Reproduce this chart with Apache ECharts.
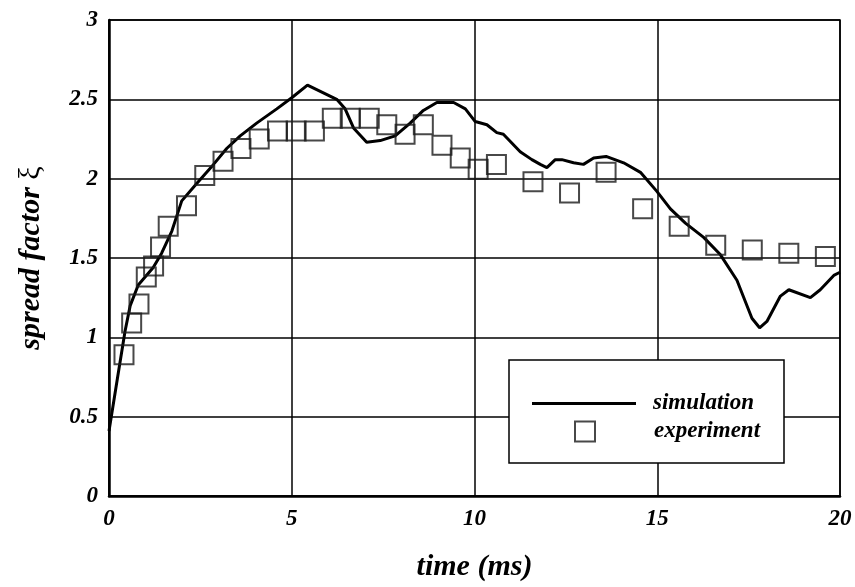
<!DOCTYPE html>
<html>
<head>
<meta charset="utf-8">
<script src="https://cdn.jsdelivr.net/npm/echarts@6/dist/echarts.min.js"></script>
<style>
  html, body { margin: 0; padding: 0; background: #fff; }
  #spread { width: 855px; height: 587px; }
</style>
</head>
<body>
<div id="spread"></div>
<script>
  /* data */
  var simTime = [0, 0.23, 0.44, 0.58, 0.80, 1.21, 1.44, 1.72, 1.99, 2.40, 2.86, 3.22, 3.59, 4.04, 4.59, 5.0, 5.43,
    6.23, 6.46, 6.69, 7.05, 7.42, 7.83, 8.24, 8.60, 8.97, 9.43, 9.75, 10.02, 10.34, 10.61, 10.79, 11.25, 11.57,
    11.80, 11.98, 12.21, 12.39, 12.71, 12.98, 13.26, 13.6, 14.08, 14.54, 14.99, 15.36, 15.77, 16.27, 16.73,
    17.18, 17.59, 17.80, 18.0, 18.37, 18.60, 19.19, 19.46, 19.83, 20.0];
  var simValue = [0.41, 0.74, 1.04, 1.20, 1.33, 1.44, 1.53, 1.67, 1.86, 1.97, 2.09, 2.19, 2.27, 2.35, 2.44, 2.51, 2.59,
    2.50, 2.44, 2.32, 2.23, 2.24, 2.27, 2.35, 2.43, 2.48, 2.48, 2.44, 2.36, 2.34, 2.29, 2.28, 2.17, 2.12,
    2.09, 2.07, 2.12, 2.12, 2.10, 2.09, 2.13, 2.14, 2.10, 2.04, 1.92, 1.81, 1.72, 1.63, 1.52,
    1.36, 1.12, 1.06, 1.10, 1.26, 1.30, 1.25, 1.30, 1.39, 1.41];

  var expTime = [0.41, 0.62, 0.82, 1.02, 1.22, 1.41, 1.62, 2.12, 2.62, 3.12, 3.61, 4.11, 4.61, 5.12, 5.62, 6.11, 6.6,
    7.12, 7.6, 8.1, 8.6, 9.11, 9.61, 10.1, 10.6, 11.6, 12.6, 13.6, 14.6, 15.6, 16.6, 17.6, 18.6, 19.6];
  var expValue = [0.89, 1.09, 1.21, 1.38, 1.45, 1.57, 1.70, 1.83, 2.02, 2.11, 2.19, 2.25, 2.30, 2.30, 2.30, 2.38, 2.38,
    2.38, 2.34, 2.28, 2.34, 2.21, 2.13, 2.06, 2.09, 1.98, 1.91, 2.04, 1.81, 1.70, 1.58, 1.55, 1.53, 1.51];

  var seriesNames = ['simulation', 'experiment'];

  var simData = simTime.map(function (t, i) { return [t, simValue[i]]; });
  var expData = expTime.map(function (t, i) { return [t, expValue[i]]; });

  var serif = 'Liberation Serif';
  var labelStyle = {
    fontFamily: serif,
    fontWeight: 'bold',
    fontStyle: 'italic',
    fontSize: 23,
    color: '#000'
  };
  var titleStyle = {
    fontFamily: serif,
    fontWeight: 'bold',
    fontStyle: 'italic',
    fontSize: 30,
    color: '#000'
  };

  var chart = echarts.init(document.getElementById('spread'));
  chart.setOption({
    animation: false,
    backgroundColor: '#fff',
    grid: {
      left: 109,
      right: 15,
      top: 20,
      bottom: 88,
      show: true,
      borderColor: '#000',
      borderWidth: 1.5
    },
    xAxis: {
      type: 'value',
      min: 0,
      max: 20,
      interval: 5,
      name: 'time (ms)',
      nameLocation: 'middle',
      nameGap: 56,
      nameTextStyle: titleStyle,
      axisLine: { lineStyle: { color: '#000', width: 2.5 } },
      axisTick: { show: false },
      axisLabel: Object.assign({ margin: 12 }, labelStyle),
      splitLine: { lineStyle: { color: '#000', width: 1.5 } }
    },
    yAxis: {
      type: 'value',
      min: 0,
      max: 3,
      interval: 0.5,
      name: 'spread factor {g|ξ}',
      nameLocation: 'middle',
      nameGap: 63,
      nameTextStyle: Object.assign({
        rich: {
          g: { fontFamily: serif, fontWeight: 'normal', fontStyle: 'normal', fontSize: 30, color: '#000' }
        }
      }, titleStyle),
      axisLine: { lineStyle: { color: '#000', width: 2.5 } },
      axisTick: { show: false },
      axisLabel: Object.assign({ margin: 11 }, labelStyle),
      splitLine: { lineStyle: { color: '#000', width: 1.5 } }
    },
    graphic: [{
      type: 'rect',
      z: 3,
      shape: { x: 509, y: 360, width: 275, height: 103 },
      style: { fill: '#fff', stroke: '#000', lineWidth: 1.5 }
    }],
    legend: [{
      data: [seriesNames[0]],
      left: 532,
      top: 392,
      padding: 0,
      itemWidth: 104,
      itemHeight: 20,
      icon: 'path://M0 0H104V3H0Z',
      itemStyle: { color: '#000' },
      textStyle: Object.assign({ padding: [0, 0, 0, 12] }, labelStyle)
    }, {
      data: [seriesNames[1]],
      left: 574,
      top: 420,
      padding: 0,
      itemWidth: 20,
      itemHeight: 20,
      icon: 'rect',
      itemStyle: { color: 'transparent', borderColor: '#1a1a1a', borderWidth: 2 },
      textStyle: Object.assign({ padding: [0, 0, 0, 54] }, labelStyle)
    }],
    series: [{
      name: seriesNames[0],
      type: 'line',
      data: simData,
      symbol: 'none',
      lineStyle: { color: '#000', width: 3 },
      itemStyle: { color: '#000' },
      z: 2
    }, {
      name: seriesNames[1],
      type: 'scatter',
      data: expData,
      symbol: 'rect',
      symbolSize: 19,
      itemStyle: { color: 'transparent', borderColor: '#1a1a1a', borderWidth: 2 },
      z: 2
    }]
  });
</script>
</body>
</html>
